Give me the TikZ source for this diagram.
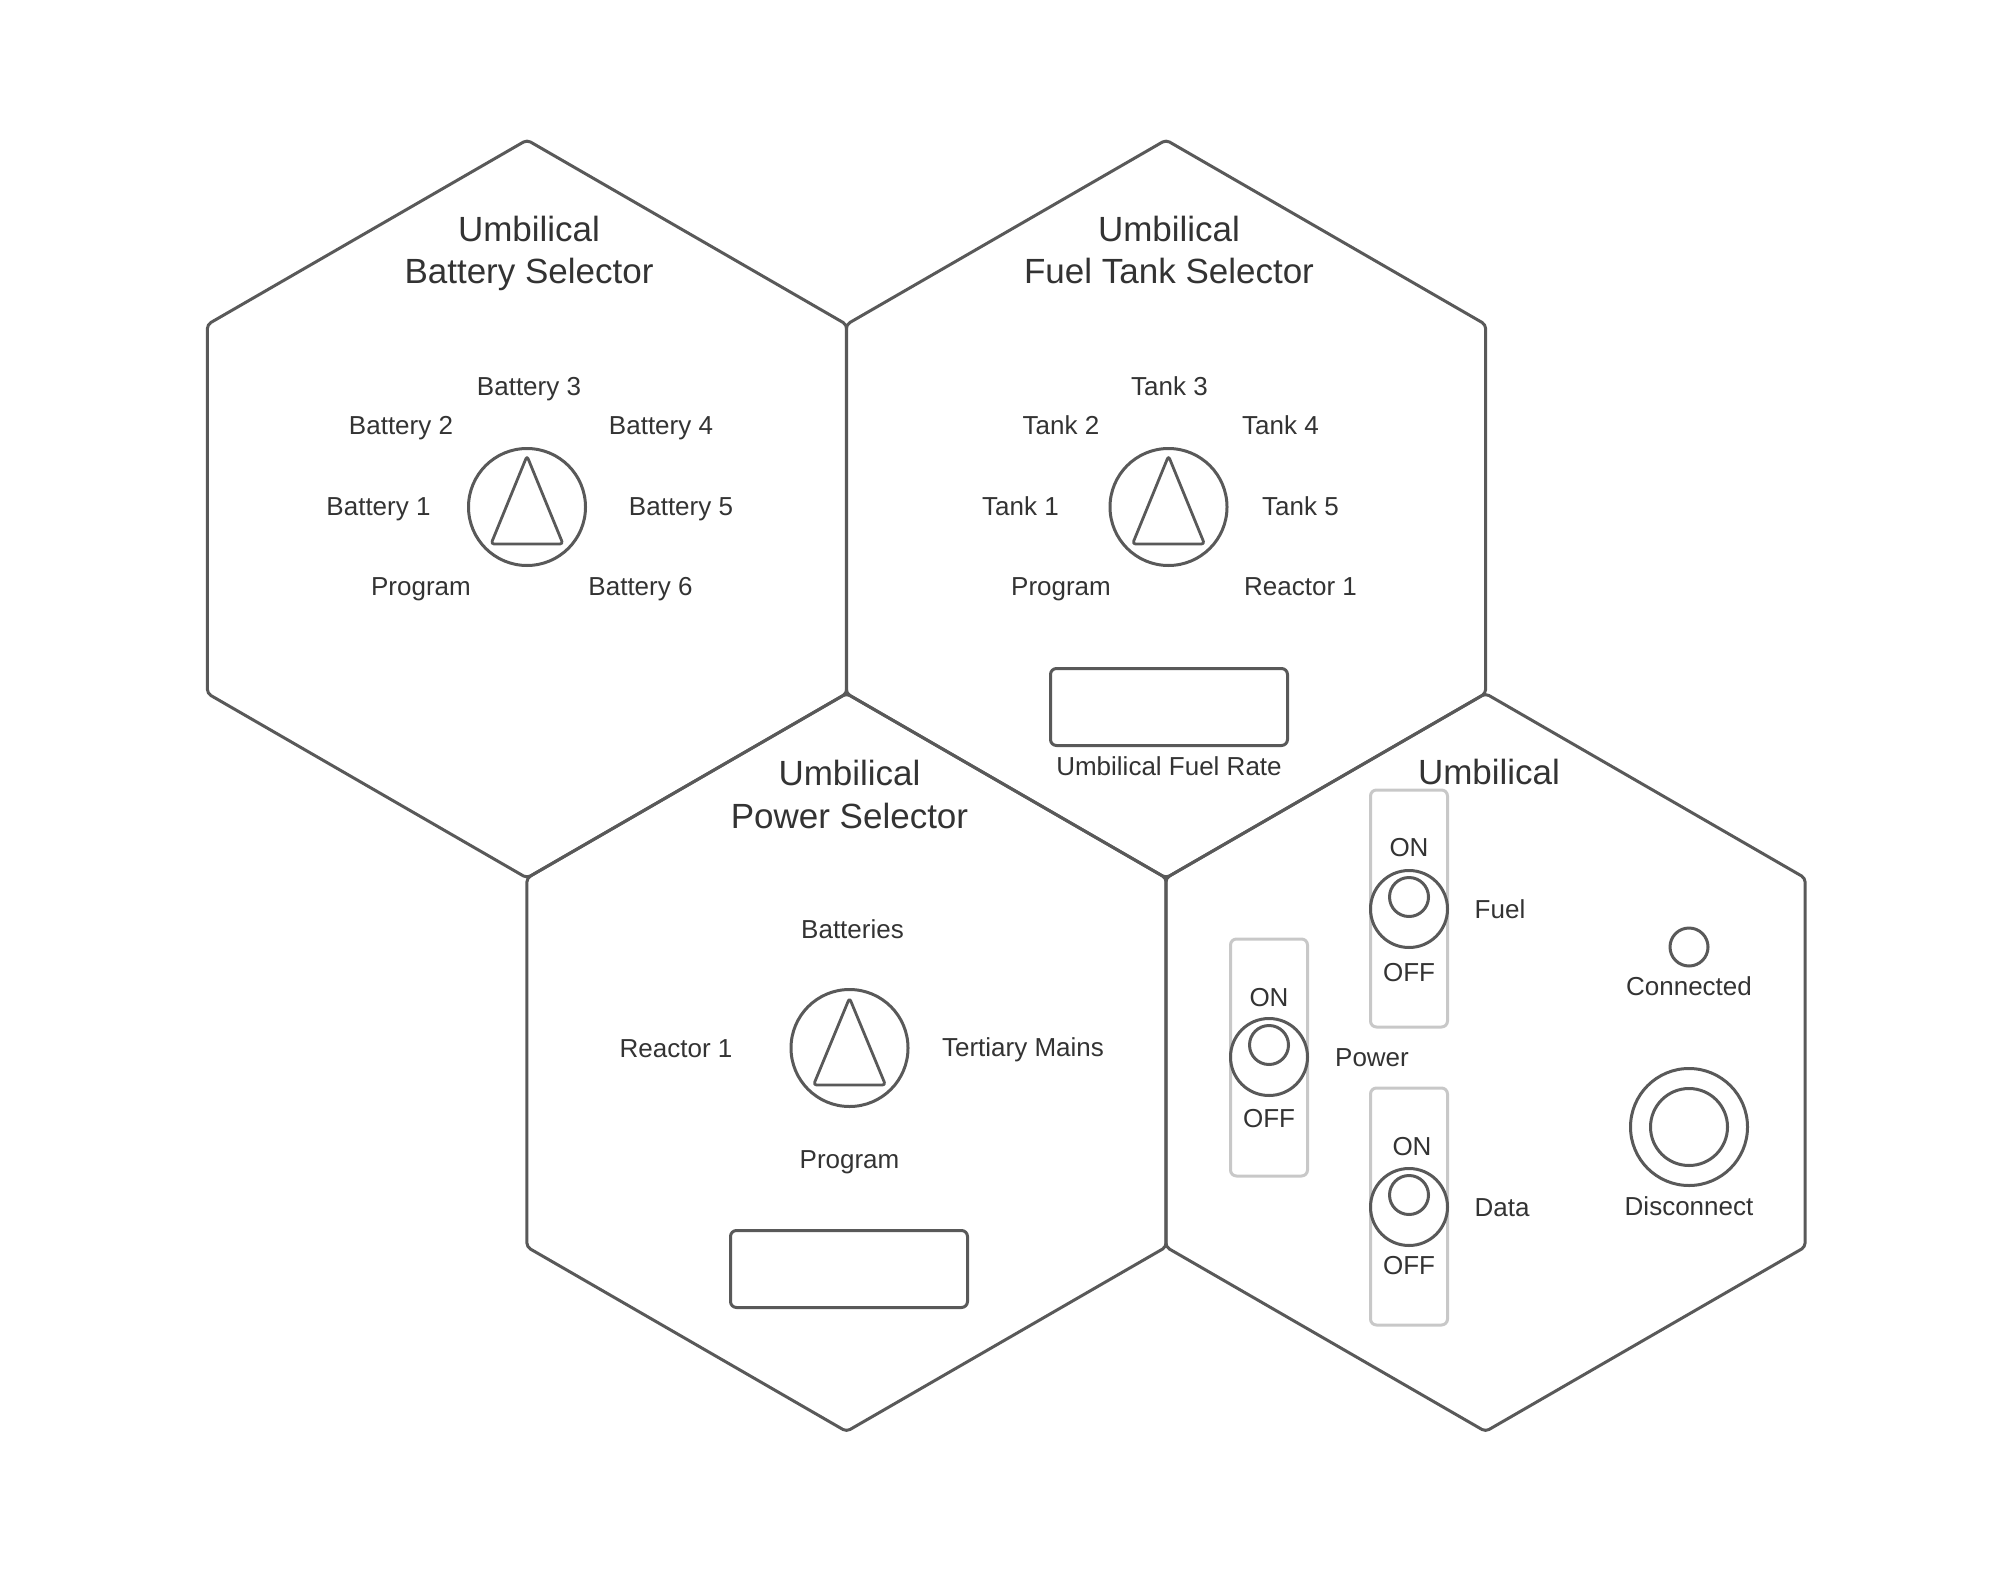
\documentclass[tikz,border=0pt]{standalone}
\usepackage{fontspec}
\setmainfont{Liberation Sans}
\usetikzlibrary{calc}
\definecolor{edge}{HTML}{595959}
\definecolor{ink}{HTML}{333333}
\definecolor{framegray}{HTML}{C8C8C8}
\begin{document}
\begin{tikzpicture}[x=1pt,y=-1pt,
  hexline/.style={draw=edge,line width=3pt,rounded corners=4pt,line join=round},
  ttl/.style={font=\fontsize{35}{42}\selectfont,text=ink,anchor=base,inner sep=0pt},
  lbl/.style={font=\fontsize{26}{31}\selectfont,text=ink,anchor=base,inner sep=0pt},
  knob/.style={circle,draw=edge,line width=3pt,minimum size=117pt,inner sep=0pt},
  pointer/.style={draw=edge,line width=2.8pt,rounded corners=3pt,line join=round},
  display/.style={rectangle,draw=edge,line width=3pt,rounded corners=6pt,minimum width=237pt,minimum height=77pt,inner sep=0pt},
  swframe/.style={rectangle,draw=framegray,line width=3pt,rounded corners=6pt,minimum width=77pt,minimum height=237pt,inner sep=0pt},
  swouter/.style={circle,draw=edge,line width=3pt,minimum size=77pt,inner sep=0pt},
  swinner/.style={circle,draw=edge,line width=3pt,minimum size=39pt,inner sep=0pt},
]
\useasboundingbox (0,0) rectangle (2015,1570);

% honeycomb
\foreach \cx/\cy in {527/509, 1166/509, 846.5/1062.5, 1485.5/1062.5}
  \draw[hexline] (\cx,\cy-369) -- ++(319.6,184.5) -- ++(0,369) -- ++(-319.6,184.5)
     -- ++(-319.6,-184.5) -- ++(0,-369) -- cycle;

% ---------- Hex 1: Battery selector ----------
\node[ttl] (t1a) at (529,241.5) {Umbilical};
\node[ttl] (t1b) at (529,283.5) {Battery Selector};
\node[knob] (k1) at (527,507) {};
\draw[pointer] ($(k1)+(0,-51)$) -- ($(k1)+(36,37)$) -- ($(k1)+(-36,37)$) -- cycle;
\node[lbl] (b3) at (529,395) {Battery 3};
\node[lbl] (b2) at (401,434) {Battery 2};
\node[lbl] (b4) at (661,434) {Battery 4};
\node[lbl] (b1) at (378.5,515.5) {Battery 1};
\node[lbl] (b5) at (681,515.5) {Battery 5};
\node[lbl] (bp) at (421,595) {Program};
\node[lbl] (b6) at (640.5,595.5) {Battery 6};

% ---------- Hex 2: Fuel tank selector ----------
\node[ttl] (t2a) at (1169,241.5) {Umbilical};
\node[ttl] (t2b) at (1169,283.5) {Fuel Tank Selector};
\node[knob] (k2) at (1168.5,507) {};
\draw[pointer] ($(k2)+(0,-51)$) -- ($(k2)+(36,37)$) -- ($(k2)+(-36,37)$) -- cycle;
\node[lbl] (f3) at (1169.5,395) {Tank 3};
\node[lbl] (f2) at (1061,434) {Tank 2};
\node[lbl] (f4) at (1280.5,434) {Tank 4};
\node[lbl] (f1) at (1020.5,515.5) {Tank 1};
\node[lbl] (f5) at (1300.5,515.5) {Tank 5};
\node[lbl] (fp) at (1061,595) {Program};
\node[lbl] (fr) at (1300.5,595.5) {Reactor 1};
\node[display] (rate) at (1169,707) {};
\node[lbl] (ratel) at (1169,775) {Umbilical Fuel Rate};

% ---------- Hex 3: Power selector ----------
\node[ttl] (t3a) at (849.5,785.5) {Umbilical};
\node[ttl] (t3b) at (849.5,828.5) {Power Selector};
\node[knob] (k3) at (849.5,1048) {};
\draw[pointer] ($(k3)+(0,-50)$) -- ($(k3)+(36,37)$) -- ($(k3)+(-36,37)$) -- cycle;
\node[lbl] (pb) at (852.5,938.5) {Batteries};
\node[lbl] (pr) at (676,1057) {Reactor 1};
\node[lbl] (pt) at (1023,1056.5) {Tertiary Mains};
\node[lbl] (pp) at (849.5,1168) {Program};
\node[display] (pdisp) at (849,1269) {};

% ---------- Hex 4: Umbilical switches ----------
\node[ttl] (t4a) at (1489,784) {Umbilical};

% Fuel switch
\node[swframe] (fuelfr) at (1409,908.5) {};
\node[swouter] (fuelo) at (1409,909) {};
\node[swinner] (fueli) at (1409,897) {};
\node[lbl] (fuelon) at (1409,856) {ON};
\node[lbl] (fueloff) at (1409,981.5) {OFF};
\node[lbl] (fuell) at (1500,918) {Fuel};

% Power switch
\node[swframe] (powfr) at (1269,1057.5) {};
\node[swouter] (powo) at (1269,1057) {};
\node[swinner] (powi) at (1269,1045) {};
\node[lbl] (powon) at (1269,1006.5) {ON};
\node[lbl] (powoff) at (1269,1127) {OFF};
\node[lbl] (powl) at (1372,1066.5) {Power};

% Data switch
\node[swframe] (datfr) at (1409,1206.5) {};
\node[swouter] (dato) at (1409,1207) {};
\node[swinner] (dati) at (1409,1195) {};
\node[lbl] (daton) at (1412,1155.5) {ON};
\node[lbl] (datoff) at (1409,1274.5) {OFF};
\node[lbl] (datl) at (1502,1216.5) {Data};

% Connected lamp
\node[circle,draw=edge,line width=3pt,minimum size=38pt,inner sep=0pt] (lamp) at (1689,947) {};
\node[lbl] (lampl) at (1689,995.5) {Connected};

% Disconnect button
\node[knob] (disco) at (1689,1127) {};
\node[swouter] (disci) at (1689,1127) {};
\node[lbl] (discl) at (1689,1215.5) {Disconnect};
\end{tikzpicture}
\end{document}
